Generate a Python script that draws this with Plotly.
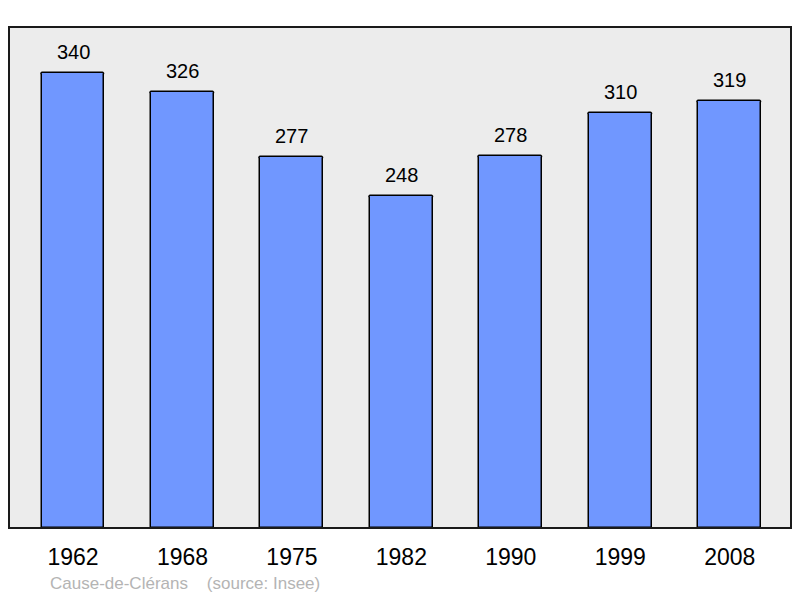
"""Population bar chart for Cause-de-Clérans, census years 1962-2008."""
import plotly.graph_objects as go

# Data
years = ['1962', '1968', '1975', '1982', '1990', '1999', '2008']
population = [340, 326, 277, 248, 278, 310, 319]
footer = 'Cause-de-Clérans    (source: Insee)'

fig = go.Figure()
fig.add_trace(go.Bar(x=years, y=population, width=0.575,
                     marker=dict(color='#7097ff', cornerradius=2,
                                 line=dict(color='black', width=1.5)),
                     hoverinfo='skip'))

# Value labels above the bars
# (numeric-looking category names get read as positions, so use the index)
for i, value in enumerate(population):
    fig.add_annotation(x=i, y=value, text=str(value), showarrow=False,
                       xref='x', yref='y', yanchor='middle', yshift=21,
                       font=dict(size=20, color='black'))

fig.add_annotation(text=footer, xref='paper', yref='paper', x=0.05, y=-0.11,
                   xanchor='left', yanchor='middle', showarrow=False,
                   font=dict(size=17, color='#b4b4b4'))

# Plot frame
fig.add_shape(type='rect', xref='paper', yref='paper', x0=0, y0=0, x1=1, y1=1,
              line=dict(color='#1a1a1a', width=2), layer='above')

# the page body has an 8px margin, so the figure starts 8px in
fig.update_layout(width=784, height=590,
                  margin=dict(l=1, r=1, t=19, b=70),
                  paper_bgcolor='white', plot_bgcolor='#ececec',
                  font=dict(family='Liberation Sans, Arial, sans-serif'),
                  showlegend=False, bargap=0)
fig.update_xaxes(type='category', range=[-0.585, 6.56], showgrid=False,
                 zeroline=False, ticks='outside', ticklen=8,
                 tickcolor='rgba(0,0,0,0)',
                 tickfont=dict(size=23, color='black'))
fig.update_yaxes(range=[0, 374.4], showgrid=False, zeroline=False,
                 showticklabels=False)

fig.write_html('out.html')
